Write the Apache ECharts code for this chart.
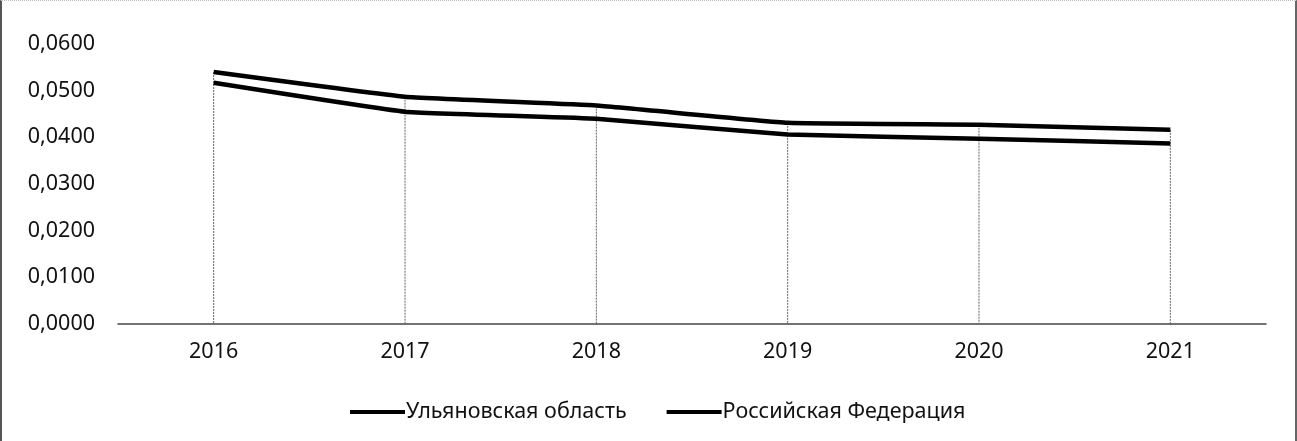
<!DOCTYPE html>
<html>
<head>
<meta charset="utf-8">
<script src="https://cdn.jsdelivr.net/npm/echarts@6/dist/echarts.min.js"></script>
<style>
  html, body { margin: 0; padding: 0; background: #fff; }
  #chart {
    width: 1297px; height: 441px; box-sizing: border-box;
    border-left: 2px solid #555; border-right: 2px solid #666; border-top: 1px dotted #bbb;
  }
</style>
</head>
<body>
<div id="chart"></div>
<script>
// годы
var years = ['2016', '2017', '2018', '2019', '2020', '2021'];
// значения показателя
var ulyanovsk = [0.0540, 0.0487, 0.0468, 0.0431, 0.0427, 0.0416];
var russia = [0.0517, 0.0455, 0.0440, 0.0406, 0.0397, 0.0387];
var seriesNames = ['Ульяновская область', 'Российская Федерация'];

var FONT = 'Noto Sans';

// вертикальные линии от верхней кривой до оси
var dropData = years.map(function (y, i) {
  return [i, Math.max(ulyanovsk[i], russia[i])];
});

var myChart = echarts.init(document.getElementById('chart'));

var option = {
  animation: false,
  grid: { left: 116, right: 29, top: 43, bottom: 117 },
  legend: {
    data: seriesNames,
    left: 343,
    top: 395,
    icon: 'rect',
    itemWidth: 55,
    itemHeight: 4,
    itemGap: 40,
    textStyle: { fontFamily: FONT, fontSize: 21.5, color: '#111', padding: [0, 0, 0, -4] }
  },
  xAxis: {
    type: 'category',
    data: years,
    boundaryGap: true,
    axisLine: { lineStyle: { color: '#444', width: 1.5 } },
    axisTick: { show: false },
    axisLabel: { fontFamily: FONT, fontSize: 21.5, color: '#111', margin: 17 }
  },
  yAxis: {
    type: 'value',
    min: 0,
    max: 0.06,
    interval: 0.01,
    axisLine: { show: false },
    axisTick: { show: false },
    splitLine: { show: false },
    axisLabel: {
      fontFamily: FONT, fontSize: 21.5, color: '#111', margin: 23,
      formatter: function (v) { return v.toFixed(4).replace('.', ','); }
    }
  },
  series: [
    {
      type: 'custom',
      silent: true,
      data: dropData,
      z: 1,
      renderItem: function (params, api) {
        var top = api.coord([api.value(0), api.value(1)]);
        var bottom = api.coord([api.value(0), 0]);
        return {
          type: 'line',
          shape: { x1: top[0], y1: top[1], x2: bottom[0], y2: bottom[1] },
          style: { stroke: '#666', lineWidth: 1, lineDash: [2, 1] }
        };
      }
    },
    {
      name: seriesNames[0],
      type: 'line',
      data: ulyanovsk,
      smooth: 0.1,
      symbol: 'none',
      z: 3,
      itemStyle: { color: '#000' },
      lineStyle: { color: '#000', width: 4.5 }
    },
    {
      name: seriesNames[1],
      type: 'line',
      data: russia,
      smooth: 0.1,
      symbol: 'none',
      z: 3,
      itemStyle: { color: '#000' },
      lineStyle: { color: '#000', width: 4.5 }
    }
  ]
};

myChart.setOption(option);
</script>
</body>
</html>
